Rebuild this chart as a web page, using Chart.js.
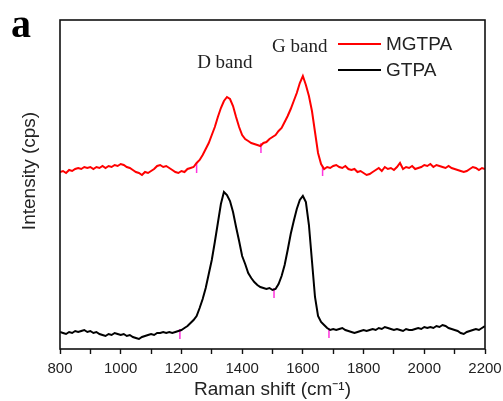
<!DOCTYPE html>
<html><head><meta charset="utf-8">
<script src="https://cdn.jsdelivr.net/npm/chart.js@4"></script>
<style>html,body{margin:0;padding:0;background:#fff}#wrap{width:503px;height:401px;position:relative}</style>
</head><body><div id="wrap"><canvas id="c"></canvas></div>
<script>
// Raman shift sample positions (cm-1)
const wavenumbers = [800,810,820,830,840,850,860,870,880,890,900,910,920,930,940,950,960,970,980,990,
1000,1010,1020,1030,1040,1050,1060,1070,1080,1090,1100,1110,1120,1130,1140,1150,1160,1170,1180,1190,
1200,1210,1220,1230,1240,1250,1260,1270,1280,1290,1300,1310,1320,1330,1340,1350,1360,1370,1380,1390,
1400,1410,1420,1430,1440,1450,1460,1470,1480,1490,1500,1510,1520,1530,1540,1550,1560,1570,1580,1590,
1600,1610,1620,1630,1640,1650,1660,1670,1680,1690,1700,1710,1720,1730,1740,1750,1760,1770,1780,1790,
1800,1810,1820,1830,1840,1850,1860,1870,1880,1890,1900,1910,1920,1930,1940,1950,1960,1970,1980,1990,
2000,2010,2020,2030,2040,2050,2060,2070,2080,2090,2100,2110,2120,2130,2140,2150,2160,2170,2180,2190,2200];

// MGTPA intensity (arbitrary units, offset trace)
const mgtpa = [177,178,176,179,178,180,181,180,182,181,182,180,182,181,183,181,183,182,184,183,
185,184,182,181,179,177,176,174,177,176,178,180,183,184,182,183,181,179,177,176,
178,177,180,181,182,186,189,194,200,206,214,222,232,241,248,252,250,243,232,222,
214,210,208,206,205,204,203,206,207,210,212,214,218,221,227,233,240,248,256,266,
273,264,253,238,217,196,185,180,182,181,183,184,182,181,183,180,179,180,177,178,
176,174,175,177,179,181,178,182,180,181,179,182,186,180,182,181,183,180,181,182,
184,183,185,182,184,183,182,181,183,181,180,179,178,177,178,180,182,181,179,181,180];

// GTPA intensity (arbitrary units)
const gtpa = [17,16,15,17,16,18,17,18,19,17,18,16,17,15,14,13,15,14,16,15,
14,15,13,14,12,11,10,12,13,14,15,14,16,16,17,16,17,16,17,18,
19,21,23,26,29,33,41,50,61,75,89,107,126,145,157,154,148,137,122,108,
93,85,76,71,67,64,62,61,60,61,59,60,65,73,84,99,115,128,140,149,
153,147,124,88,52,33,27,24,21,19,20,19,20,21,19,18,17,16,17,18,
19,18,19,20,19,21,20,22,21,20,19,20,19,18,20,19,19,20,21,20,
22,21,22,21,23,22,24,23,21,20,19,18,16,15,17,18,19,20,19,21,23];

const seriesLabels = ['MGTPA', 'GTPA'];
const seriesColors = ['#ff0000', '#000000'];
const labeledTicks = [800, 1000, 1200, 1400, 1600, 1800, 2000, 2200];
const bandLabels = ['D band', 'G band'];
const bandShifts = [1343, 1590];
const bandLevels = [281, 297];
// small magenta segment marks seen on the traces
const markShifts = [1250, 1462, 1665, 1195, 1505, 1686];
const markLevels = [181, 201, 178, 15, 56, 16];

const overlay = {
  id: 'overlay',
  afterDraw(chart) {
    const { ctx, chartArea: a, scales: { x, y } } = chart;
    ctx.save();
    ctx.strokeStyle = '#111';
    ctx.lineWidth = 1.6;
    ctx.strokeRect(a.left, a.top, a.right - a.left, a.bottom - a.top);
    ctx.fillStyle = '#000';
    ctx.font = 'bold 40px "Liberation Serif"';
    ctx.textBaseline = 'alphabetic';
    ctx.textAlign = 'left';
    ctx.fillText('a', 11, 37);
    ctx.fillStyle = '#222';
    ctx.font = '19px "Liberation Serif"';
    ctx.textAlign = 'center';
    bandLabels.forEach((t, i) => ctx.fillText(t, x.getPixelForValue(bandShifts[i]), y.getPixelForValue(bandLevels[i])));
    // y-axis title
    ctx.save();
    ctx.translate(30, 171);
    ctx.rotate(-Math.PI / 2);
    ctx.font = '19px "Liberation Sans"';
    ctx.textAlign = 'center';
    ctx.textBaseline = 'middle';
    ctx.fillText('Intensity (cps)', 0, 0);
    ctx.restore();
    // legend
    ctx.font = '19px "Liberation Sans"';
    ctx.textAlign = 'left';
    ctx.textBaseline = 'middle';
    seriesLabels.forEach((t, i) => {
      const ly = 44 + i * 26;
      ctx.strokeStyle = seriesColors[i];
      ctx.lineWidth = 2;
      ctx.beginPath(); ctx.moveTo(338, ly); ctx.lineTo(381, ly); ctx.stroke();
      ctx.fillStyle = '#222';
      ctx.fillText(t, 386, ly + 1);
    });
    ctx.restore();
  }
};

new Chart(document.getElementById('c'), {
  type: 'line',
  data: {
    datasets: [
      { label: seriesLabels[0], data: wavenumbers.map((w, i) => ({ x: w, y: mgtpa[i] })), borderColor: seriesColors[0], borderWidth: 2, pointRadius: 0, tension: 0 },
      { label: seriesLabels[1], data: wavenumbers.map((w, i) => ({ x: w, y: gtpa[i] })), borderColor: seriesColors[1], borderWidth: 2, pointRadius: 0, tension: 0 },
      { label: 'marks', data: markShifts.map((w, i) => ({ x: w, y: markLevels[i] })), showLine: false, pointStyle: 'line', rotation: 90, pointRadius: 5, borderColor: '#ff33dd', borderWidth: 1.5, pointBorderColor: '#ff33dd' }
    ]
  },
  options: {
    responsive: true,
    maintainAspectRatio: false,
    animation: false,
    events: [],
    layout: { padding: { left: 60, right: 18, top: 20, bottom: 0 } },
    plugins: { legend: { display: false }, tooltip: { enabled: false } },
    scales: {
      x: {
        type: 'linear', min: 800, max: 2200,
        border: { display: false },
        grid: { display: true, drawOnChartArea: false, drawTicks: true, tickLength: 5, tickWidth: 1.4, color: '#111' },
        ticks: { stepSize: 100, padding: 6, color: '#222', font: { family: 'Liberation Sans', size: 15 }, maxRotation: 0, autoSkip: false,
          callback: v => labeledTicks.includes(v) ? String(v) : '' },
        title: { display: true, text: 'Raman shift (cm\u207B\u00B9)', color: '#222', font: { family: 'Liberation Sans', size: 19 }, padding: { top: 0, bottom: 0 } },
        afterFit: s => { s.height = 52; s.paddingLeft = 0; s.paddingRight = 0; }
      },
      y: {
        min: 0, max: 329,
        border: { display: false },
        grid: { display: false },
        ticks: { display: false },
        title: { display: false },
        afterFit: s => { s.width = 0; }
      }
    }
  },
  plugins: [overlay]
});
</script></body></html>
